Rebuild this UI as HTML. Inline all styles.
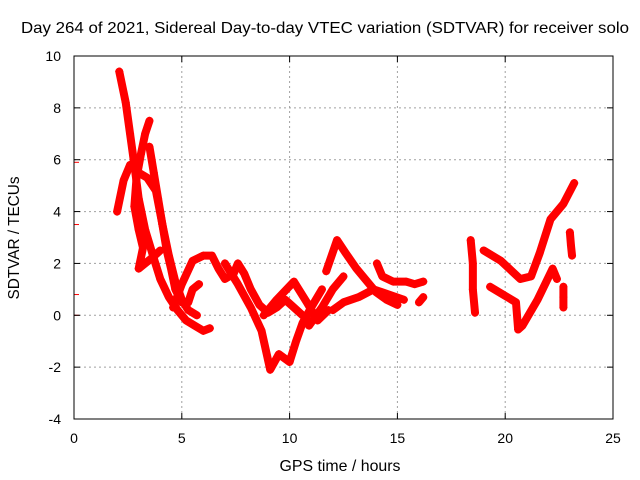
<!DOCTYPE html>
<html><head><meta charset="utf-8"><style>
body{margin:0;background:#fff}
svg{display:block;font-family:"Liberation Sans",sans-serif}
</style></head><body>
<svg id="chart" width="640" height="480" xmlns="http://www.w3.org/2000/svg">
<rect width="640" height="480" fill="#fff"/>
<text x="325" y="33" text-anchor="middle" font-size="16" textLength="608" lengthAdjust="spacingAndGlyphs" fill="#000">Day 264 of 2021, Sidereal Day-to-day VTEC variation (SDTVAR) for receiver solo</text>
<text x="340" y="471" text-anchor="middle" font-size="16" textLength="121" lengthAdjust="spacingAndGlyphs">GPS time / hours</text>
<text transform="translate(19,238) rotate(-90)" text-anchor="middle" font-size="16" textLength="123" lengthAdjust="spacingAndGlyphs">SDTVAR / TECUs</text>
<g id="grid"></g><g id="series"></g><g id="axes"></g>
</svg>
<script>
const xTicks=[0,5,10,15,20,25];
const yTicks=[-4,-2,0,2,4,6,8,10];
const track1=[[2.1,9.4],[2.4,8.2],[2.6,7.0],[2.8,5.8],[3.0,4.5],[3.3,3.3],[3.7,2.2],[4.0,1.4],[4.4,0.7],[4.8,0.2],[5.2,-0.2],[5.6,-0.4],[6.0,-0.6],[6.3,-0.5]];
const track2=[[2.0,4.0],[2.3,5.2],[2.6,5.8],[3.0,5.5],[3.4,5.3],[3.8,4.8],[4.1,3.5],[4.4,2.3],[4.7,1.3],[5.0,0.6],[5.3,0.2],[5.7,0.0]];
const track3=[[3.5,7.5],[3.3,7.0],[3.1,6.2],[2.9,5.3],[2.8,4.2],[3.0,3.3],[3.2,2.6],[3.0,1.8],[3.3,2.0],[3.6,2.2],[4.0,2.5]];
const track4=[[3.5,6.5],[3.7,5.5],[3.9,4.5],[4.1,3.5],[4.3,2.5],[4.5,1.8],[4.7,1.0],[5.0,0.5],[5.3,0.5],[5.5,1.0],[5.8,1.2]];
const track5=[[4.6,0.3],[5.0,1.2],[5.5,2.1],[6.0,2.3],[6.4,2.3],[6.7,1.8],[7.0,1.4],[7.4,1.6],[7.6,2.0],[7.9,1.6],[8.2,1.0],[8.6,0.4],[9.0,0.1],[9.4,0.3],[9.8,0.6],[10.2,0.3],[10.6,0.0]];
const track6=[[7.0,2.0],[7.6,1.2],[8.2,0.3],[8.7,-0.6],[9.1,-2.1],[9.5,-1.5],[10.0,-1.8],[10.3,-1.0],[10.6,-0.3],[11.0,0.3],[11.5,1.0]];
const track7=[[8.8,0.0],[9.4,0.6],[10.2,1.3],[10.8,0.5],[11.3,-0.2],[11.8,0.2]];
const track8=[[10.9,-0.4],[11.5,0.3],[12.0,1.0],[12.5,1.5]];
const track9=[[11.7,1.7],[12.2,2.9],[12.6,2.4],[13.1,1.8],[13.6,1.3],[14.0,0.9],[14.5,0.6],[15.0,0.4]];
const track10=[[12.0,0.2],[12.5,0.5],[13.2,0.7],[13.9,1.0],[14.6,0.8],[15.3,0.6]];
const track11=[[14.05,2.0],[14.3,1.5],[14.8,1.3],[15.4,1.3],[15.8,1.2],[16.2,1.3]];
const track12=[[16.0,0.5],[16.2,0.7]];
const track13=[[18.4,2.9],[18.5,2.0],[18.5,1.0],[18.6,0.1]];
const track14=[[19.0,2.5],[19.8,2.1],[20.7,1.4],[21.2,1.5],[21.6,2.4],[22.1,3.7],[22.7,4.3],[23.2,5.1]];
const track15=[[19.3,1.1],[19.9,0.8],[20.5,0.5],[20.6,-0.55],[20.8,-0.4],[21.5,0.6],[22.2,1.8],[22.4,1.4]];
const track16=[[23.0,3.2],[23.05,2.7],[23.1,2.3]];
const track17=[[22.7,1.1],[22.7,0.7],[22.7,0.3]];
const track18=[[0.0,5.9],[0.0,3.5],[0.0,0.8],[0.0,0.0]];
const tracks=[track1,track2,track3,track4,track5,track6,track7,track8,track9,track10,track11,track12,track13,track14,track15,track16,track17];
const X0=74,X1=613,Y0=419,Y1=56;
const xs=t=>X0+(t-0)/(25-0)*(X1-X0);
const ys=v=>Y0-(v+4)/(10+4)*(Y0-Y1);
const NS="http://www.w3.org/2000/svg";
function mk(tag,attrs,parent){const e=document.createElementNS(NS,tag);for(const k in attrs)e.setAttribute(k,attrs[k]);parent.appendChild(e);return e;}
const grid=document.getElementById('grid'),axes=document.getElementById('axes'),ser=document.getElementById('series');
xTicks.forEach(t=>{const x=xs(t);
 if(t>0&&t<25){const g=mk('line',{x1:x,y1:Y1,x2:x,y2:Y0,stroke:'#a0a0a0','stroke-dasharray':'2,3'},grid);
 
 }
 mk('line',{x1:x,y1:Y0,x2:x,y2:Y0-6,stroke:'#000'},axes);
 mk('line',{x1:x,y1:Y1,x2:x,y2:Y1+6,stroke:'#000'},axes);
 const l=mk('text',{x:x,y:Y0+24,'text-anchor':'middle','font-size':'14'},axes);l.textContent=t;
 
 });
yTicks.forEach(v=>{const y=ys(v);
 if(v>-4&&v<10){const g=mk('line',{x1:X0,y1:y,x2:X1,y2:y,stroke:'#a0a0a0','stroke-dasharray':'2,3'},grid);
 
 }
 mk('line',{x1:X0,y1:y,x2:X0+6,y2:y,stroke:'#000'},axes);
 mk('line',{x1:X1,y1:y,x2:X1-6,y2:y,stroke:'#000'},axes);
 const l=mk('text',{x:X0-13,y:y+5,'text-anchor':'end','font-size':'14'},axes);l.textContent=v;
 
 });
const fr=mk('rect',{x:X0,y:Y1,width:X1-X0,height:Y0-Y1,fill:'none',stroke:'#000'},axes);


tracks.forEach(tr=>{
 const pl=mk('polyline',{points:tr.map(p=>xs(p[0])+','+ys(p[1])).join(' '),fill:'none',stroke:'#ff0000','stroke-width':'8','stroke-linejoin':'round','stroke-linecap':'round'},ser);
 
 
 tr.forEach(p=>{const x=xs(p[0]),y=ys(p[1]);
  const m=mk('path',{d:`M${x-4},${y}h8M${x},${y-4}v8`,stroke:'#ff0000','stroke-width':'1'},ser);
  
  });
});
track18.forEach(p=>{const x=xs(p[0]),y=ys(p[1]);
 const m=mk('path',{d:`M${x},${y}h5`,stroke:'#ff0000','stroke-width':'1'},ser);
 
 });
</script>
</body></html>
